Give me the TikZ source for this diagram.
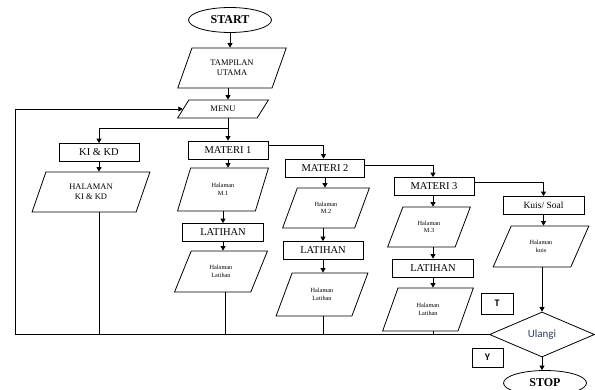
\documentclass[tikz,border=0pt]{standalone}
\usepackage{fontspec}
\setmainfont{Liberation Serif}
\newfontfamily\carl{Carlito}
\usetikzlibrary{shapes.geometric,arrows.meta}
\tikzset{
  ln/.style={line width=0.8pt},
  arr/.style={ln,-{Triangle[length=4.5pt,width=5pt]}},
  boxn/.style={draw,ln,rectangle,minimum width=80pt,minimum height=18pt,inner sep=0pt,
     font=\fontsize{10.5}{12}\selectfont},
  para/.style={draw,ln,trapezium,trapezium stretches=true,inner sep=0pt,align=center,
     font=\fontsize{6.3}{7.5}\selectfont},
  term/.style={draw,ln,ellipse,minimum width=83pt,minimum height=25pt,inner sep=0pt,
     font=\fontsize{12}{14}\selectfont\bfseries},
  lab/.style={draw,ln,rectangle,minimum width=31pt,minimum height=20pt,inner sep=0pt,
     font=\carl\fontsize{10}{12}\selectfont\bfseries},
}
\definecolor{ulc}{RGB}{45,60,95}
\begin{document}
\begin{tikzpicture}[x=1pt,y=-1pt]
\useasboundingbox (0,0) rectangle (595,389);
% terminals
\node[term] (start) at (230,20) {START};
\node[term] (stop) at (545,383) {STOP};
% top parallelograms
\node[para,minimum width=109pt,minimum height=40pt,trapezium left angle=64,trapezium right angle=116,
  font=\fontsize{8.5}{10}\selectfont] (tamp) at (232,68) {TAMPILAN\\UTAMA};
\node[para,minimum width=91pt,minimum height=18pt,trapezium left angle=54,trapezium right angle=126,
  font=\fontsize{8.5}{10}\selectfont] (menu) at (223,109) {MENU};
% column 1
\node[boxn] (kikd) at (99,152.5) {KI \& KD};
\node[para,minimum width=118pt,minimum height=40pt,trapezium left angle=67,trapezium right angle=113,
  font=\fontsize{8.5}{10}\selectfont] (halkikd) at (91,192) {HALAMAN\\KI \& KD};
% column 2
\node[boxn] (m1) at (228,150) {MATERI 1};
\node[para,minimum width=91pt,minimum height=43pt,trapezium left angle=69,trapezium right angle=111] (halm1) at (223,189.5) {Halaman\\M.1};
\node[boxn,minimum width=81pt] (lat1) at (223,232.5) {LATIHAN};
\node[para,minimum width=93pt,minimum height=41pt,trapezium left angle=62,trapezium right angle=118] (hallat1) at (221,271.5) {Halaman\\Latihan};
% column 3
\node[boxn,minimum width=79pt] (m2) at (325,168) {MATERI 2};
\node[para,minimum width=87pt,minimum height=40pt,trapezium left angle=64,trapezium right angle=116] (halm2) at (326,208) {Halaman\\M.2};
\node[boxn] (lat2) at (323,250.5) {LATIHAN};
\node[para,minimum width=92pt,minimum height=43pt,trapezium left angle=63,trapezium right angle=117] (hallat2) at (322,294.5) {Halaman\\Latihan};
% column 4
\node[boxn] (m3) at (434,186.5) {MATERI 3};
\node[para,minimum width=83pt,minimum height=40pt,trapezium left angle=61,trapezium right angle=119] (halm3) at (429,227) {Halaman\\M.3};
\node[boxn,minimum width=81pt] (lat3) at (433,268) {LATIHAN};
\node[para,minimum width=91pt,minimum height=43pt,trapezium left angle=64,trapezium right angle=116] (hallat3) at (428,309.5) {Halaman\\Latihan};
% column 5
\node[boxn,minimum width=81pt,font=\fontsize{9.5}{11}\selectfont] (kuis) at (543.5,205.5) {Kuis/ Soal};
\node[para,minimum width=96pt,minimum height=41pt,trapezium left angle=60,trapezium right angle=120] (halkuis) at (541,246.5) {Halaman\\kuis};
\node[draw,ln,diamond,minimum width=105pt,minimum height=45pt,inner sep=0pt,
  font=\carl\fontsize{11}{13}\selectfont,text=ulc] (dia) at (542,334.5) {Ulangi};
% labels
\node[lab,minimum width=32pt,minimum height=21pt] (lt) at (497,303.5) {T};
\node[lab,minimum width=31pt,minimum height=19pt] (ly) at (487.5,357.5) {Y};
% helper coordinates
\coordinate (br) at (228,128);
\coordinate (lc) at (15,334.5);
% connectors
\draw[arr] (start.south) -- (start.south |- tamp.north);
\draw[arr] (tamp.south -| m1.north) -- (m1.north |- menu.north);
\draw[arr] (menu.south -| m1.north) -- (m1.north);
\draw[arr] (br) -| (kikd.north);
\draw[arr] (kikd.south) -- (kikd.south |- halkikd.north);
\draw[ln] (halkikd.south -| kikd.south) -- (kikd.south |- lc);
% col 2
\draw[arr] (m1.south) -- (m1.south |- halm1.north);
\draw[arr] (halm1.south -| lat1.north) -- (lat1.north);
\draw[arr] (lat1.south) -- (lat1.south |- hallat1.north);
\draw[ln] ([xshift=2pt]hallat1.south -| lat1.south) -- ([xshift=2pt]lat1.south |- lc);
% col 3
\draw[arr] ([yshift=4.5pt]m1.east) -| ([xshift=-1.5pt]m2.north);
\draw[arr] (m2.south) -- (m2.south |- halm2.north);
\draw[arr] (halm2.south -| lat2.north) -- (lat2.north);
\draw[arr] (lat2.south) -- (lat2.south |- hallat2.north);
\draw[ln] (hallat2.south -| lat2.south) -- (lat2.south |- lc);
% col 4
\draw[arr] ([yshift=3pt]m2.east) -| ([xshift=-1pt]m3.north);
\draw[arr] ([xshift=-1pt]m3.south) -- ([xshift=-1pt]m3.south |- halm3.north);
\draw[arr] (halm3.south -| lat3.north) -- (lat3.north);
\draw[arr] (lat3.south) -- (lat3.south |- hallat3.north);
\draw[ln] (hallat3.south -| lat3.south) -- (lat3.south |- lc);
% col 5
\draw[arr] ([yshift=4.5pt]m3.east) -| (kuis.north);
\draw[arr] (kuis.south) -- (kuis.south |- halkuis.north);
\draw[arr] (halkuis.south -| dia.north) -- (dia.north);
\draw[arr] (dia.south) -- (dia.south |- stop.north);
% loop back
\draw[arr] (dia.west) -- (lc) |- (menu.west);
\end{tikzpicture}
\end{document}
